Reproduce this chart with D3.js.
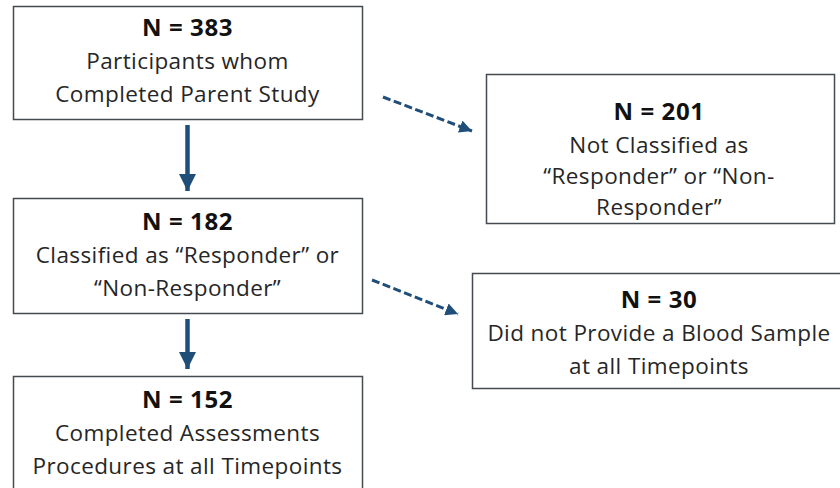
<!DOCTYPE html>
<html>
<head>
<meta charset="utf-8">
<script src="https://cdn.jsdelivr.net/npm/d3@7"></script>
<style>
  body { margin: 0; background: #fff; }
  svg { display: block; }
</style>
</head>
<body>
<div id="flow"></div>
<script>
// flow chart data
var counts = [383, 201, 182, 30, 152];
var labels = [
  ["Participants whom", "Completed Parent Study"],
  ["Not Classified as", "\u201cResponder\u201d or \u201cNon-", "Responder\u201d"],
  ["Classified as \u201cResponder\u201d or", "\u201cNon-Responder\u201d"],
  ["Did not Provide a Blood Sample", "at all Timepoints"],
  ["Completed Assessments", "Procedures at all Timepoints"]
];
// links: [from, to, kind]
var links = [[0, 2, "main"], [2, 4, "main"], [0, 1, "excluded"], [2, 3, "excluded"]];

var W = 840, H = 488;
var arrowColor = "#1f4e79";
var boxStroke = "#454a52";
var font = "'Open Sans', Lato, sans-serif";

// box geometry (layout only)
var boxes = [
  { x: 13, y: 6, w: 349, h: 113, top: 36, cx: 187.5 },
  { x: 486, y: 74, w: 348, h: 149, top: 120, cx: 659 },
  { x: 13, y: 198, w: 349, h: 115, top: 230, cx: 187.5 },
  { x: 472, y: 273, w: 380, h: 115, top: 308, cx: 659 },
  { x: 13, y: 376, w: 349, h: 130, top: 408, cx: 187.5 }
];
var lineGap = 33;

var svg = d3.select("#flow").append("svg")
    .attr("width", W)
    .attr("height", H)
    .attr("viewBox", `0 0 ${W} ${H}`);

var defs = svg.append("defs");
defs.append("marker")
    .attr("id", "head")
    .attr("viewBox", "0 0 10 10")
    .attr("refX", 10).attr("refY", 5)
    .attr("markerWidth", 3.8).attr("markerHeight", 3.8)
    .attr("markerUnits", "strokeWidth")
    .attr("orient", "auto")
  .append("path")
    .attr("d", "M0,0 L10,5 L0,10 z")
    .attr("fill", arrowColor);
defs.append("marker")
    .attr("id", "headDash")
    .attr("viewBox", "0 0 10 10")
    .attr("refX", 10).attr("refY", 5)
    .attr("markerWidth", 4.2).attr("markerHeight", 4.2)
    .attr("markerUnits", "strokeWidth")
    .attr("orient", "auto")
  .append("path")
    .attr("d", "M0,0 L10,5 L0,10 z")
    .attr("fill", arrowColor);

// arrow end points
function linkPoints(l) {
  var a = boxes[l[0]], b = boxes[l[1]];
  if (l[2] == "main") {
    var cx = a.cx;
    return [[cx, a.y + a.h + 6], [cx, b.y - 7]];
  }
  // dashed side arrows
  var x1 = a.x + a.w + 21, y1 = a.y + 91;
  if (l[0] == 2) { x1 = a.x + a.w + 10; y1 = a.y + 82; }
  return [[x1, y1], [b.x - 14, y1 + 34]];
}

var line = d3.line();

svg.append("g").selectAll("path")
  .data(links).enter().append("path")
    .attr("d", d => line(linkPoints(d)))
    .attr("fill", "none")
    .attr("stroke", arrowColor)
    .attr("stroke-width", d => d[2] == "main" ? 4.5 : 3)
    .attr("stroke-dasharray", d => d[2] == "main" ? null : "8,3.5")
    .attr("marker-end", d => d[2] == "main" ? "url(#head)" : "url(#headDash)");

var node = svg.append("g").selectAll("g")
  .data(counts).enter().append("g");

node.append("rect")
    .attr("x", (d, i) => boxes[i].x + 0.5)
    .attr("y", (d, i) => boxes[i].y + 0.5)
    .attr("width", (d, i) => boxes[i].w)
    .attr("height", (d, i) => boxes[i].h)
    .attr("fill", "#fff")
    .attr("stroke", boxStroke)
    .attr("stroke-width", 1.5);

node.append("text")
    .attr("x", (d, i) => boxes[i].cx)
    .attr("y", (d, i) => boxes[i].top)
    .attr("text-anchor", "middle")
    .style("font-family", font)
    .style("font-weight", "bold")
    .style("font-size", "24px")
    .style("letter-spacing", "0.6px")
    .attr("fill", "#111")
    .text(d => "N = " + d);

node.each(function(d, i) {
  var b = boxes[i];
  d3.select(this).selectAll("text.lbl")
    .data(labels[i]).enter().append("text")
      .attr("class", "lbl")
      .attr("x", b.cx)
      .attr("y", (t, j) => b.top + lineGap * (j + 1) - (i == 1 && j > 0 ? 2 * j : 0))
      .attr("text-anchor", "middle")
      .style("font-family", font)
      .style("font-size", "22.5px")
      .style("letter-spacing", "0.4px")
      .attr("fill", "#262626")
      .text(t => t);
});
</script>
</body>
</html>
